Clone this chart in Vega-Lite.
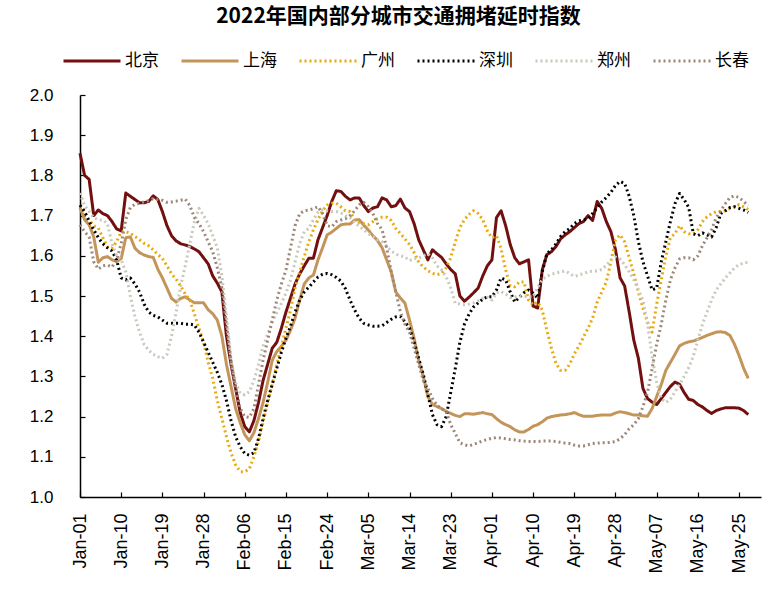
{
  "$schema": "https://vega.github.io/schema/vega-lite/v6.json",
  "width": 681,
  "height": 402,
  "autosize": {"type": "none"},
  "padding": {"left": 80, "top": 95, "right": 22, "bottom": 92},
  "background": "white",
  "title": {"text": "2022年国内部分城市交通拥堵延时指数", "font": "Noto Sans CJK SC", "fontSize": 21, "fontWeight": "bold", "color": "#000000", "anchor": "middle", "dx": -22, "offset": 4},
  "config": {
    "view": {"stroke": null},
    "axis": {"grid": false, "domainColor": "#000000", "tickColor": "#000000", "labelColor": "#000000", "labelFont": "Liberation Sans", "domainWidth": 1.5, "tickWidth": 1.2}
  },
  "data": {"values": [
    {"date":"2022-01-01","北京":1.855,"上海":1.72,"广州":1.726,"深圳":1.726,"郑州":1.756,"长春":1.677},
    {"date":"2022-01-02","北京":1.80,"上海":1.69,"广州":1.71,"深圳":1.71,"郑州":1.725,"长春":1.66},
    {"date":"2022-01-03","北京":1.79,"上海":1.677,"广州":1.69,"深圳":1.685,"郑州":1.71,"长春":1.647},
    {"date":"2022-01-04","北京":1.70,"上海":1.647,"广州":1.675,"深圳":1.665,"郑州":1.695,"长春":1.585},
    {"date":"2022-01-05","北京":1.714,"上海":1.584,"广州":1.669,"深圳":1.645,"郑州":1.689,"长春":1.567},
    {"date":"2022-01-06","北京":1.705,"上海":1.595,"广州":1.645,"深圳":1.63,"郑州":1.689,"长春":1.575},
    {"date":"2022-01-07","北京":1.70,"上海":1.598,"广州":1.622,"深圳":1.62,"郑州":1.68,"长春":1.577},
    {"date":"2022-01-08","北京":1.685,"上海":1.59,"广州":1.619,"深圳":1.612,"郑州":1.63,"长春":1.572},
    {"date":"2022-01-09","北京":1.667,"上海":1.586,"广州":1.635,"深圳":1.59,"郑州":1.60,"长春":1.59},
    {"date":"2022-01-10","北京":1.662,"上海":1.593,"广州":1.66,"深圳":1.545,"郑州":1.59,"长春":1.63},
    {"date":"2022-01-11","北京":1.756,"上海":1.645,"广州":1.66,"深圳":1.54,"郑州":1.56,"长春":1.69},
    {"date":"2022-01-12","北京":1.748,"上海":1.647,"广州":1.656,"深圳":1.545,"郑州":1.50,"长春":1.72},
    {"date":"2022-01-13","北京":1.740,"上海":1.619,"广州":1.648,"深圳":1.53,"郑州":1.45,"长春":1.728},
    {"date":"2022-01-14","北京":1.732,"上海":1.608,"广州":1.64,"深圳":1.51,"郑州":1.41,"长春":1.731},
    {"date":"2022-01-15","北京":1.732,"上海":1.602,"广州":1.631,"深圳":1.48,"郑州":1.38,"长春":1.734},
    {"date":"2022-01-16","北京":1.735,"上海":1.598,"广州":1.625,"深圳":1.46,"郑州":1.365,"长春":1.737},
    {"date":"2022-01-17","北京":1.749,"上海":1.596,"广州":1.615,"深圳":1.452,"郑州":1.355,"长春":1.742},
    {"date":"2022-01-18","北京":1.74,"上海":1.567,"广州":1.603,"深圳":1.448,"郑州":1.349,"长春":1.74},
    {"date":"2022-01-19","北京":1.71,"上海":1.545,"广州":1.594,"深圳":1.44,"郑州":1.345,"长春":1.738},
    {"date":"2022-01-20","北京":1.675,"上海":1.52,"广州":1.575,"深圳":1.432,"郑州":1.355,"长春":1.733},
    {"date":"2022-01-21","北京":1.65,"上海":1.494,"广州":1.555,"深圳":1.432,"郑州":1.40,"长春":1.734},
    {"date":"2022-01-22","北京":1.637,"上海":1.485,"广州":1.542,"深圳":1.432,"郑州":1.46,"长春":1.736},
    {"date":"2022-01-23","北京":1.630,"上海":1.494,"广州":1.525,"深圳":1.432,"郑州":1.525,"长春":1.738},
    {"date":"2022-01-24","北京":1.627,"上海":1.498,"广州":1.505,"深圳":1.43,"郑州":1.575,"长春":1.741},
    {"date":"2022-01-25","北京":1.623,"上海":1.49,"广州":1.49,"深圳":1.43,"郑州":1.63,"长春":1.725},
    {"date":"2022-01-26","北京":1.617,"上海":1.483,"广州":1.455,"深圳":1.428,"郑州":1.685,"长春":1.695},
    {"date":"2022-01-27","北京":1.61,"上海":1.483,"广州":1.42,"深圳":1.41,"郑州":1.718,"长春":1.68},
    {"date":"2022-01-28","北京":1.595,"上海":1.483,"广州":1.385,"深圳":1.385,"郑州":1.70,"长春":1.66},
    {"date":"2022-01-29","北京":1.58,"上海":1.466,"广州":1.335,"深圳":1.36,"郑州":1.68,"长春":1.635},
    {"date":"2022-01-30","北京":1.55,"上海":1.456,"广州":1.295,"深圳":1.335,"郑州":1.65,"长春":1.61},
    {"date":"2022-01-31","北京":1.532,"上海":1.44,"广州":1.24,"深圳":1.31,"郑州":1.62,"长春":1.57},
    {"date":"2022-02-01","北京":1.51,"上海":1.40,"广州":1.195,"深圳":1.28,"郑州":1.55,"长春":1.52},
    {"date":"2022-02-02","北京":1.40,"上海":1.33,"广州":1.15,"深圳":1.24,"郑州":1.45,"长春":1.43},
    {"date":"2022-02-03","北京":1.33,"上海":1.275,"广州":1.11,"深圳":1.19,"郑州":1.34,"长春":1.34},
    {"date":"2022-02-04","北京":1.27,"上海":1.22,"广州":1.08,"深圳":1.15,"郑州":1.285,"长春":1.27},
    {"date":"2022-02-05","北京":1.21,"上海":1.185,"广州":1.063,"深圳":1.125,"郑州":1.258,"长春":1.22},
    {"date":"2022-02-06","北京":1.175,"上海":1.155,"广州":1.063,"深圳":1.108,"郑州":1.254,"长春":1.20},
    {"date":"2022-02-07","北京":1.162,"上海":1.14,"广州":1.07,"深圳":1.104,"郑州":1.262,"长春":1.198},
    {"date":"2022-02-08","北京":1.19,"上海":1.16,"广州":1.10,"深圳":1.11,"郑州":1.29,"长春":1.22},
    {"date":"2022-02-09","北京":1.235,"上海":1.195,"广州":1.14,"深圳":1.145,"郑州":1.33,"长春":1.28},
    {"date":"2022-02-10","北京":1.29,"上海":1.235,"广州":1.185,"深圳":1.195,"郑州":1.375,"长春":1.34},
    {"date":"2022-02-11","北京":1.33,"上海":1.285,"广州":1.235,"深圳":1.24,"郑州":1.405,"长春":1.39},
    {"date":"2022-02-12","北京":1.37,"上海":1.34,"广州":1.28,"深圳":1.28,"郑州":1.435,"长春":1.44},
    {"date":"2022-02-13","北京":1.385,"上海":1.362,"广州":1.33,"深圳":1.32,"郑州":1.458,"长春":1.49},
    {"date":"2022-02-14","北京":1.42,"上海":1.375,"广州":1.375,"深圳":1.36,"郑州":1.482,"长春":1.53},
    {"date":"2022-02-15","北京":1.46,"上海":1.39,"广州":1.42,"深圳":1.395,"郑州":1.507,"长春":1.565},
    {"date":"2022-02-16","北京":1.495,"上海":1.415,"广州":1.465,"深圳":1.425,"郑州":1.54,"长春":1.62},
    {"date":"2022-02-17","北京":1.53,"上海":1.445,"广州":1.52,"深圳":1.46,"郑州":1.585,"长春":1.675},
    {"date":"2022-02-18","北京":1.555,"上海":1.49,"广州":1.56,"深圳":1.49,"郑州":1.63,"长春":1.705},
    {"date":"2022-02-19","北京":1.575,"上海":1.53,"广州":1.598,"深圳":1.51,"郑州":1.66,"长春":1.712},
    {"date":"2022-02-20","北京":1.594,"上海":1.545,"广州":1.635,"深圳":1.522,"郑州":1.668,"长春":1.714},
    {"date":"2022-02-21","北京":1.594,"上海":1.552,"广州":1.665,"深圳":1.535,"郑州":1.69,"长春":1.717},
    {"date":"2022-02-22","北京":1.64,"上海":1.59,"广州":1.69,"深圳":1.547,"郑州":1.708,"长春":1.722},
    {"date":"2022-02-23","北京":1.67,"上海":1.62,"广州":1.712,"深圳":1.554,"郑州":1.714,"长春":1.705},
    {"date":"2022-02-24","北京":1.70,"上海":1.652,"广州":1.726,"深圳":1.556,"郑州":1.712,"长春":1.675},
    {"date":"2022-02-25","北京":1.735,"上海":1.659,"广州":1.731,"深圳":1.553,"郑州":1.71,"长春":1.672},
    {"date":"2022-02-26","北京":1.762,"上海":1.668,"广州":1.731,"深圳":1.546,"郑州":1.71,"长春":1.685},
    {"date":"2022-02-27","北京":1.760,"上海":1.677,"广州":1.722,"深圳":1.537,"郑州":1.707,"长春":1.689},
    {"date":"2022-02-28","北京":1.748,"上海":1.679,"广州":1.712,"深圳":1.518,"郑州":1.70,"长春":1.692},
    {"date":"2022-03-01","北京":1.739,"上海":1.679,"广州":1.71,"深圳":1.49,"郑州":1.695,"长春":1.70},
    {"date":"2022-03-02","北京":1.744,"上海":1.689,"广州":1.69,"深圳":1.465,"郑州":1.683,"长春":1.712},
    {"date":"2022-03-03","北京":1.744,"上海":1.69,"广州":1.683,"深圳":1.445,"郑州":1.673,"长春":1.727},
    {"date":"2022-03-04","北京":1.725,"上海":1.676,"广州":1.68,"深圳":1.432,"郑州":1.665,"长春":1.733},
    {"date":"2022-03-05","北京":1.71,"上海":1.664,"广州":1.677,"深圳":1.428,"郑州":1.655,"长春":1.722},
    {"date":"2022-03-06","北京":1.719,"上海":1.65,"广州":1.685,"深圳":1.425,"郑州":1.648,"长春":1.705},
    {"date":"2022-03-07","北京":1.722,"上海":1.638,"广州":1.692,"深圳":1.425,"郑州":1.64,"长春":1.68},
    {"date":"2022-03-08","北京":1.744,"上海":1.62,"广州":1.696,"深圳":1.426,"郑州":1.635,"长春":1.665},
    {"date":"2022-03-09","北京":1.739,"上海":1.59,"广州":1.696,"深圳":1.434,"郑州":1.624,"长春":1.62},
    {"date":"2022-03-10","北京":1.722,"上海":1.56,"广州":1.688,"深圳":1.442,"郑州":1.612,"长春":1.56},
    {"date":"2022-03-11","北京":1.725,"上海":1.51,"广州":1.668,"深圳":1.448,"郑州":1.604,"长春":1.51},
    {"date":"2022-03-12","北京":1.741,"上海":1.495,"广州":1.655,"深圳":1.449,"郑州":1.60,"长春":1.46},
    {"date":"2022-03-13","北京":1.719,"上海":1.482,"广州":1.642,"深圳":1.436,"郑州":1.597,"长春":1.43},
    {"date":"2022-03-14","北京":1.71,"上海":1.44,"广州":1.628,"深圳":1.42,"郑州":1.588,"长春":1.41},
    {"date":"2022-03-15","北京":1.68,"上海":1.395,"广州":1.608,"深圳":1.385,"郑州":1.593,"长春":1.37},
    {"date":"2022-03-16","北京":1.64,"上海":1.34,"广州":1.585,"深圳":1.345,"郑州":1.594,"长春":1.33},
    {"date":"2022-03-17","北京":1.615,"上海":1.30,"广州":1.572,"深圳":1.305,"郑州":1.60,"长春":1.29},
    {"date":"2022-03-18","北京":1.59,"上海":1.25,"广州":1.563,"深圳":1.255,"郑州":1.605,"长春":1.27},
    {"date":"2022-03-19","北京":1.615,"上海":1.23,"广州":1.556,"深圳":1.205,"郑州":1.595,"长春":1.245},
    {"date":"2022-03-20","北京":1.605,"上海":1.225,"广州":1.553,"深圳":1.18,"郑州":1.575,"长春":1.228},
    {"date":"2022-03-21","北京":1.596,"上海":1.22,"广州":1.556,"深圳":1.175,"郑州":1.565,"长春":1.22},
    {"date":"2022-03-22","北京":1.58,"上海":1.213,"广州":1.57,"深圳":1.2,"郑州":1.548,"长春":1.213},
    {"date":"2022-03-23","北京":1.566,"上海":1.208,"广州":1.595,"深圳":1.26,"郑州":1.52,"长春":1.18},
    {"date":"2022-03-24","北京":1.555,"上海":1.203,"广州":1.635,"深圳":1.32,"郑州":1.482,"长春":1.158},
    {"date":"2022-03-25","北京":1.50,"上海":1.20,"广州":1.67,"深圳":1.385,"郑州":1.48,"长春":1.135},
    {"date":"2022-03-26","北京":1.487,"上海":1.207,"广州":1.69,"深圳":1.43,"郑州":1.478,"长春":1.13},
    {"date":"2022-03-27","北京":1.497,"上海":1.207,"广州":1.703,"深圳":1.455,"郑州":1.48,"长春":1.127},
    {"date":"2022-03-28","北京":1.508,"上海":1.206,"广州":1.712,"深圳":1.473,"郑州":1.483,"长春":1.131},
    {"date":"2022-03-29","北京":1.52,"上海":1.208,"广州":1.705,"深圳":1.483,"郑州":1.488,"长春":1.135},
    {"date":"2022-03-30","北京":1.55,"上海":1.21,"广州":1.69,"深圳":1.492,"郑州":1.494,"长春":1.14},
    {"date":"2022-03-31","北京":1.575,"上海":1.207,"广州":1.662,"深圳":1.498,"郑州":1.497,"长春":1.143},
    {"date":"2022-04-01","北京":1.59,"上海":1.205,"广州":1.645,"深圳":1.498,"郑州":1.49,"长春":1.146},
    {"date":"2022-04-02","北京":1.695,"上海":1.195,"广州":1.65,"深圳":1.515,"郑州":1.508,"长春":1.148},
    {"date":"2022-04-03","北京":1.712,"上海":1.186,"广州":1.618,"深圳":1.545,"郑州":1.511,"长春":1.147},
    {"date":"2022-04-04","北京":1.675,"上海":1.18,"广州":1.565,"深圳":1.54,"郑州":1.505,"长春":1.145},
    {"date":"2022-04-05","北京":1.628,"上海":1.175,"广州":1.525,"深圳":1.51,"郑州":1.496,"长春":1.143},
    {"date":"2022-04-06","北京":1.595,"上海":1.167,"广州":1.523,"深圳":1.485,"郑州":1.497,"长春":1.142},
    {"date":"2022-04-07","北京":1.58,"上海":1.162,"广州":1.535,"深圳":1.497,"郑州":1.5,"长春":1.14},
    {"date":"2022-04-08","北京":1.585,"上海":1.162,"广州":1.535,"深圳":1.508,"郑州":1.499,"长春":1.139},
    {"date":"2022-04-09","北京":1.59,"上海":1.168,"广州":1.49,"深圳":1.515,"郑州":1.498,"长春":1.138},
    {"date":"2022-04-10","北京":1.475,"上海":1.176,"广州":1.478,"深圳":1.507,"郑州":1.498,"长春":1.138},
    {"date":"2022-04-11","北京":1.47,"上海":1.18,"广州":1.485,"深圳":1.495,"郑州":1.52,"长春":1.138},
    {"date":"2022-04-12","北京":1.565,"上海":1.187,"广州":1.465,"深圳":1.56,"郑州":1.542,"长春":1.139},
    {"date":"2022-04-13","北京":1.603,"上海":1.196,"广州":1.415,"深圳":1.605,"郑州":1.549,"长春":1.139},
    {"date":"2022-04-14","北京":1.61,"上海":1.2,"广州":1.37,"深圳":1.615,"郑州":1.554,"长春":1.139},
    {"date":"2022-04-15","北京":1.623,"上海":1.202,"广州":1.332,"深圳":1.63,"郑州":1.557,"长春":1.138},
    {"date":"2022-04-16","北京":1.642,"上海":1.204,"广州":1.315,"深圳":1.648,"郑州":1.56,"长春":1.136},
    {"date":"2022-04-17","北京":1.652,"上海":1.205,"广州":1.315,"深圳":1.66,"郑州":1.562,"长春":1.134},
    {"date":"2022-04-18","北京":1.66,"上海":1.207,"广州":1.33,"深圳":1.668,"郑州":1.556,"长春":1.133},
    {"date":"2022-04-19","北京":1.67,"上海":1.21,"广州":1.356,"深圳":1.68,"郑州":1.549,"长春":1.129},
    {"date":"2022-04-20","北京":1.68,"上海":1.205,"广州":1.375,"深圳":1.687,"郑州":1.552,"长春":1.127},
    {"date":"2022-04-21","北京":1.685,"上海":1.201,"广州":1.398,"深圳":1.689,"郑州":1.556,"长春":1.127},
    {"date":"2022-04-22","北京":1.70,"上海":1.201,"广州":1.42,"深圳":1.692,"郑州":1.56,"长春":1.13},
    {"date":"2022-04-23","北京":1.688,"上海":1.201,"广州":1.445,"深圳":1.705,"郑州":1.562,"长春":1.133},
    {"date":"2022-04-24","北京":1.735,"上海":1.203,"广州":1.485,"深圳":1.72,"郑州":1.562,"长春":1.134},
    {"date":"2022-04-25","北京":1.718,"上海":1.204,"广州":1.51,"深圳":1.734,"郑州":1.566,"长春":1.135},
    {"date":"2022-04-26","北京":1.685,"上海":1.204,"广州":1.535,"深圳":1.745,"郑州":1.576,"长春":1.135},
    {"date":"2022-04-27","北京":1.66,"上海":1.204,"广州":1.585,"深圳":1.758,"郑州":1.59,"长春":1.136},
    {"date":"2022-04-28","北京":1.615,"上海":1.209,"广州":1.64,"深圳":1.775,"郑州":1.597,"长春":1.138},
    {"date":"2022-04-29","北京":1.545,"上海":1.212,"广州":1.652,"深圳":1.785,"郑州":1.592,"长春":1.145},
    {"date":"2022-04-30","北京":1.525,"上海":1.21,"广州":1.635,"深圳":1.78,"郑州":1.578,"长春":1.155},
    {"date":"2022-05-01","北京":1.46,"上海":1.207,"广州":1.595,"深圳":1.748,"郑州":1.56,"长春":1.17},
    {"date":"2022-05-02","北京":1.39,"上海":1.204,"广州":1.555,"深圳":1.70,"郑州":1.54,"长春":1.18},
    {"date":"2022-05-03","北京":1.345,"上海":1.204,"广州":1.51,"深圳":1.635,"郑州":1.515,"长春":1.195},
    {"date":"2022-05-04","北京":1.27,"上海":1.202,"广州":1.47,"深圳":1.585,"郑州":1.49,"长春":1.225},
    {"date":"2022-05-05","北京":1.245,"上海":1.201,"广州":1.435,"深圳":1.55,"郑州":1.43,"长春":1.26},
    {"date":"2022-05-06","北京":1.236,"上海":1.22,"广州":1.41,"深圳":1.515,"郑州":1.35,"长春":1.32},
    {"date":"2022-05-07","北京":1.23,"上海":1.25,"广州":1.48,"深圳":1.52,"郑州":1.285,"长春":1.38},
    {"date":"2022-05-08","北京":1.245,"上海":1.28,"广州":1.54,"深圳":1.585,"郑州":1.245,"长春":1.43},
    {"date":"2022-05-09","北京":1.26,"上海":1.315,"广州":1.6,"深圳":1.635,"郑州":1.235,"长春":1.49},
    {"date":"2022-05-10","北京":1.275,"上海":1.335,"广州":1.645,"深圳":1.685,"郑州":1.243,"长春":1.54},
    {"date":"2022-05-11","北京":1.286,"上海":1.355,"广州":1.655,"深圳":1.73,"郑州":1.262,"长春":1.57},
    {"date":"2022-05-12","北京":1.28,"上海":1.376,"广州":1.675,"深圳":1.755,"郑州":1.28,"长春":1.592},
    {"date":"2022-05-13","北京":1.26,"上海":1.382,"广州":1.66,"深圳":1.74,"郑州":1.30,"长春":1.595},
    {"date":"2022-05-14","北京":1.243,"上海":1.386,"广州":1.655,"深圳":1.72,"郑州":1.322,"长春":1.595},
    {"date":"2022-05-15","北京":1.24,"上海":1.388,"广州":1.655,"深圳":1.655,"郑州":1.35,"长春":1.59},
    {"date":"2022-05-16","北京":1.23,"上海":1.392,"广州":1.665,"深圳":1.65,"郑州":1.39,"长春":1.60},
    {"date":"2022-05-17","北京":1.224,"上海":1.397,"广州":1.685,"深圳":1.657,"郑州":1.43,"长春":1.625},
    {"date":"2022-05-18","北京":1.215,"上海":1.402,"广州":1.697,"深圳":1.652,"郑州":1.46,"长春":1.645},
    {"date":"2022-05-19","北京":1.208,"上海":1.406,"广州":1.705,"深圳":1.647,"郑州":1.49,"长春":1.665},
    {"date":"2022-05-20","北京":1.215,"上海":1.41,"广州":1.71,"深圳":1.67,"郑州":1.515,"长春":1.695},
    {"date":"2022-05-21","北京":1.219,"上海":1.411,"广州":1.71,"深圳":1.705,"郑州":1.53,"长春":1.712},
    {"date":"2022-05-22","北京":1.222,"上海":1.409,"广州":1.712,"深圳":1.712,"郑州":1.545,"长春":1.73},
    {"date":"2022-05-23","北京":1.222,"上海":1.402,"广州":1.718,"深圳":1.72,"郑州":1.557,"长春":1.745},
    {"date":"2022-05-24","北京":1.222,"上海":1.38,"广州":1.722,"深圳":1.722,"郑州":1.57,"长春":1.749},
    {"date":"2022-05-25","北京":1.221,"上海":1.352,"广州":1.727,"深圳":1.718,"郑州":1.578,"长春":1.745},
    {"date":"2022-05-26","北京":1.215,"上海":1.32,"广州":1.722,"深圳":1.714,"郑州":1.582,"长春":1.735},
    {"date":"2022-05-27","北京":1.205,"上海":1.295,"广州":1.715,"深圳":1.708,"郑州":1.584,"长春":1.725}
  ]},
  "transform": [{"fold": ["北京", "上海", "广州", "深圳", "郑州", "长春"], "as": ["city", "value"]}],
  "mark": {"type": "line", "strokeJoin": "round"},
  "encoding": {
    "x": {
      "field": "date", "type": "temporal",
      "scale": {"type": "utc", "domain": [{"year": 2022, "month": 1, "date": 1, "utc": true}, {"year": 2022, "month": 5, "date": 29, "hours": 19, "utc": true}]},
      "axis": {
        "title": null, "labelExpr": "utcFormat(datum.value, '%b-%d')", "labelAngle": 270, "labelFontSize": 18, "tickSize": -5, "labelPadding": 21,
        "values": [
          {"year": 2022, "month": 1, "date": 1, "utc": true},
          {"year": 2022, "month": 1, "date": 10, "utc": true},
          {"year": 2022, "month": 1, "date": 19, "utc": true},
          {"year": 2022, "month": 1, "date": 28, "utc": true},
          {"year": 2022, "month": 2, "date": 6, "utc": true},
          {"year": 2022, "month": 2, "date": 15, "utc": true},
          {"year": 2022, "month": 2, "date": 24, "utc": true},
          {"year": 2022, "month": 3, "date": 5, "utc": true},
          {"year": 2022, "month": 3, "date": 14, "utc": true},
          {"year": 2022, "month": 3, "date": 23, "utc": true},
          {"year": 2022, "month": 4, "date": 1, "utc": true},
          {"year": 2022, "month": 4, "date": 10, "utc": true},
          {"year": 2022, "month": 4, "date": 19, "utc": true},
          {"year": 2022, "month": 4, "date": 28, "utc": true},
          {"year": 2022, "month": 5, "date": 7, "utc": true},
          {"year": 2022, "month": 5, "date": 16, "utc": true},
          {"year": 2022, "month": 5, "date": 25, "utc": true}
        ]
      }
    },
    "y": {
      "field": "value", "type": "quantitative",
      "scale": {"domain": [1, 2], "nice": false, "zero": false},
      "axis": {"title": null, "values": [1, 1.1, 1.2, 1.3, 1.4, 1.5, 1.6, 1.7, 1.8, 1.9, 2.0], "format": ".1f", "labelFontSize": 17, "tickSize": -5, "labelPadding": 32}
    },
    "color": {
      "field": "city", "type": "nominal",
      "scale": {"domain": ["北京", "上海", "广州", "深圳", "郑州", "长春"], "range": ["#720F0F", "#C4955A", "#E8A90C", "#000000", "#C8C8BC", "#9E8778"]},
      "legend": {"title": null, "orient": "none", "legendX": -18, "legendY": -64, "direction": "horizontal", "columns": 6, "gridAlign": "all", "symbolType": "stroke", "symbolSize": 3249, "labelFont": "Noto Sans CJK SC", "labelFontSize": 17, "labelColor": "#000000", "labelOffset": 3, "columnPadding": 16, "padding": 0}
    },
    "strokeDash": {
      "field": "city", "type": "nominal",
      "scale": {"domain": ["北京", "上海", "广州", "深圳", "郑州", "长春"], "range": [[1, 0], [1, 0], [2, 3], [2, 3], [2, 3], [2, 3]]},
      "legend": {"title": null, "orient": "none", "legendX": -18, "legendY": -64, "direction": "horizontal", "columns": 6, "gridAlign": "all", "symbolType": "stroke", "symbolSize": 3249, "labelFont": "Noto Sans CJK SC", "labelFontSize": 17, "labelColor": "#000000", "labelOffset": 3, "columnPadding": 16, "padding": 0}
    },
    "strokeWidth": {
      "field": "city", "type": "nominal",
      "scale": {"domain": ["北京", "上海", "广州", "深圳", "郑州", "长春"], "range": [3, 3, 2, 2, 2, 2]},
      "legend": {"title": null, "orient": "none", "legendX": -18, "legendY": -64, "direction": "horizontal", "columns": 6, "gridAlign": "all", "symbolType": "stroke", "symbolSize": 3249, "labelFont": "Noto Sans CJK SC", "labelFontSize": 17, "labelColor": "#000000", "labelOffset": 3, "columnPadding": 16, "padding": 0}
    }
  }
}
